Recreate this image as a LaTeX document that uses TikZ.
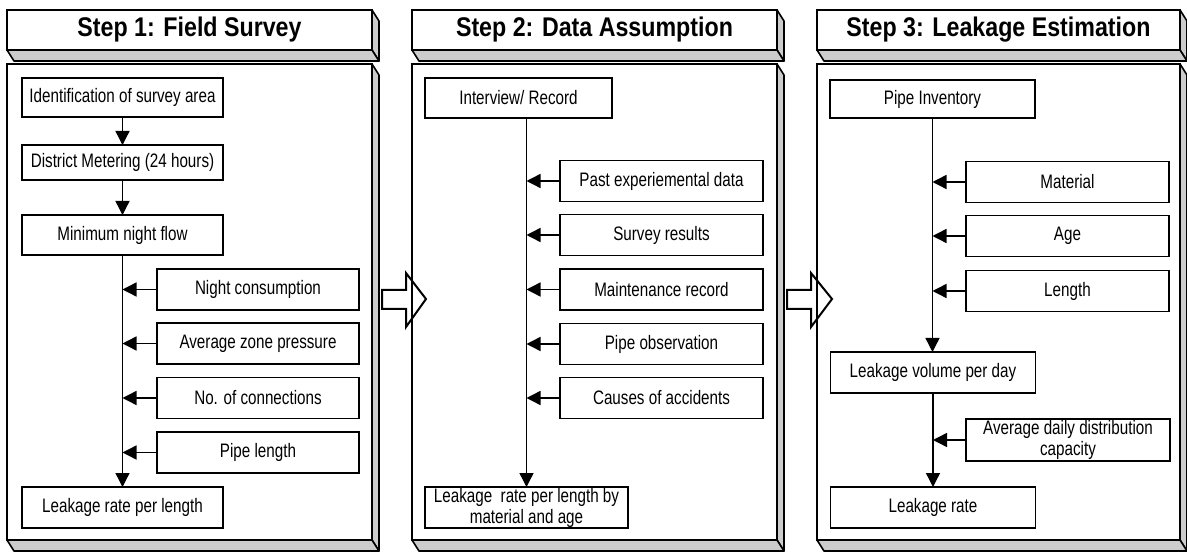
\documentclass[tikz,border=0pt]{standalone}
\usepackage{fontspec}
\setmainfont{Liberation Sans}[FakeStretch=0.78]
\newfontfamily\titlefont{Liberation Sans}[FakeStretch=0.86]
\usetikzlibrary{arrows.meta,calc}
\tikzset{
  panel/.style={draw, line width=2.2pt, inner sep=0pt, outer sep=0pt},
  face/.style={draw, line width=1.6pt, fill=black!20, line join=round},
  titletext/.style={font=\titlefont\fontsize{27}{30}\selectfont\bfseries},
  box/.style={draw, line width=1.4pt, fill=white, inner sep=1pt, outer sep=0pt, align=center, font=\fontsize{19.5}{21}\selectfont},
  sidebox/.style={box, minimum width=203pt, minimum height=41pt},
  flow/.style={line width=1.4pt, -{Triangle[length=14pt,width=14pt]}},
  bigarrow/.style={draw, line width=2pt, fill=white, line join=miter},
}
\newcommand\panelfaces[1]{%
  \draw[face] (#1.north east) -- ++(7,11) -- ($(#1.south east)+(7,11)$) -- (#1.south east) -- cycle;
  \draw[face] (#1.south west) -- (#1.south east) -- ($(#1.south east)+(7,11)$) -- ($(#1.south west)+(7,11)$) -- cycle;
}
\begin{document}
\begin{tikzpicture}[x=1pt,y=-1pt]
\path[use as bounding box, fill=white] (0,0) rectangle (1187,553);

% big arrows between panels
\coordinate (a1) at (382,299);
\coordinate (a2) at (787,299);
\draw[bigarrow] (a1) ++(0,-9) -- ++(24,0) -- ++(0,-17) -- ++(20,26) -- ++(-20,28) -- ++(0,-18) -- ++(-24,0) -- cycle;
\draw[bigarrow] (a2) ++(0,-9) -- ++(24,0) -- ++(0,-17) -- ++(21,26) -- ++(-21,28) -- ++(0,-18) -- ++(-24,0) -- cycle;

% panels
\node[panel, titletext, minimum width=365pt, minimum height=40pt] (t1) at (189.5,30) {Step 1: Field Survey};
\node[panel, minimum width=365pt, minimum height=476pt] (m1) at (189.5,302) {};
\node[panel, titletext, minimum width=365pt, minimum height=40pt] (t2) at (594.5,30) {Step 2: Data Assumption};
\node[panel, minimum width=365pt, minimum height=476pt] (m2) at (594.5,302) {};
\node[panel, titletext, minimum width=363pt, minimum height=40pt] (t3) at (998.5,30) {Step 3: Leakage Estimation};
\node[panel, minimum width=363pt, minimum height=476pt] (m3) at (998.5,302) {};
\panelfaces{t1}\panelfaces{m1}
\panelfaces{t2}\panelfaces{m2}
\panelfaces{t3}\panelfaces{m3}

% Step 1
\node[box, minimum width=201pt, minimum height=39pt] (isa) at (122.5,97.5) {Identification of survey area};
\node[box, minimum width=201pt, minimum height=35pt] (dm) at (122.5,162.5) {District Metering (24 hours)};
\node[box, minimum width=201pt, minimum height=40pt] (mnf) at (122.5,235) {Minimum night flow};
\node[sidebox, minimum width=202pt] (nc) at (258,289.5) {Night consumption};
\node[sidebox, minimum width=202pt] (azp) at (258,343.5) {Average zone pressure};
\node[sidebox, minimum width=202pt] (noc) at (258,398) {No. of connections};
\node[sidebox, minimum width=202pt] (pl) at (258,452.5) {Pipe length};
\node[box, minimum width=201pt, minimum height=41pt] (lrl) at (122.5,507.5) {Leakage rate per length};
\draw[flow] (isa) -- (dm);
\draw[flow] (dm) -- (mnf);
\draw[flow] (mnf) -- (lrl);
\foreach \n in {nc,azp,noc,pl} \draw[flow] (\n.west) -- (\n.west -| mnf.south);

% Step 2
\node[box, minimum width=187pt, minimum height=40pt] (ir) at (518.5,98) {Interview/ Record};
\node[sidebox] (ped) at (661.5,181) {Past experiemental data};
\node[sidebox] (sr) at (661.5,235) {Survey results};
\node[sidebox] (mr) at (661.5,289.5) {Maintenance record};
\node[sidebox] (po) at (661.5,344) {Pipe observation};
\node[sidebox] (ca) at (661.5,398) {Causes of accidents};
\node[box, minimum width=203pt, minimum height=41pt, inner sep=0pt] (lr2) at (526.5,507.5) {Leakage\ \ rate per length by\\material and age};
\draw[flow] (lr2.north |- ir.south) -- (lr2.north);
\foreach \n in {ped,sr,mr,po,ca} \draw[flow] (\n.west) -- (\n.west -| lr2.north);

% Step 3
\node[box, minimum width=205pt, minimum height=38pt] (pi) at (932.5,99) {Pipe Inventory};
\node[sidebox] (mat) at (1067.5,182) {Material};
\node[sidebox] (age) at (1067.5,236) {Age};
\node[sidebox] (len) at (1067.5,291) {Length};
\node[box, minimum width=205pt, minimum height=41pt] (lvd) at (933,372.5) {Leakage volume per day};
\node[sidebox, minimum width=204pt, minimum height=42pt, inner sep=0pt] (adc) at (1068,440) {Average daily distribution\\capacity};
\node[box, minimum width=205pt, minimum height=41pt] (lr3) at (933,507.5) {Leakage rate};
\draw[flow] (pi.south) -- (pi.south |- lvd.north);
\foreach \n in {mat,age,len} \draw[flow] (\n.west) -- (\n.west -| pi.south);
\draw[flow] (lvd) -- (lr3);
\draw[flow] (adc.west) -- (adc.west -| lvd.south);
\end{tikzpicture}
\end{document}
